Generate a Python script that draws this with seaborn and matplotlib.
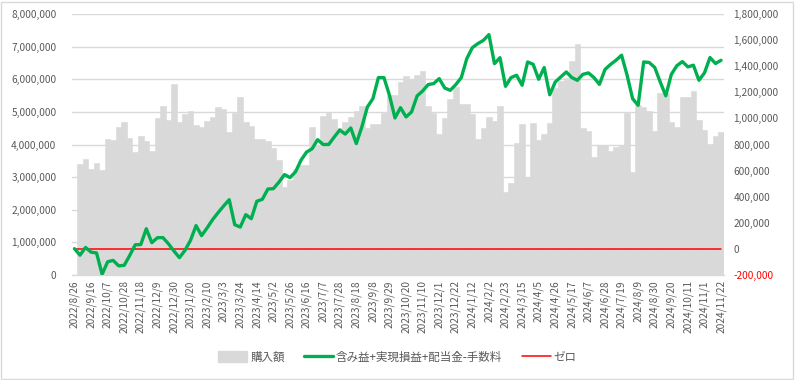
import matplotlib
matplotlib.use("Agg")
import matplotlib.pyplot as plt
from matplotlib.patches import Patch, Rectangle
from matplotlib.lines import Line2D
from matplotlib.ticker import FuncFormatter, FixedLocator
import seaborn as sns
import pandas as pd
import numpy as np

# ---------------- data ----------------
tick_labels = [
    "2022/8/26", "2022/9/16", "2022/10/7", "2022/10/28", "2022/11/18", "2022/12/9",
    "2022/12/30", "2023/1/20", "2023/2/10", "2023/3/3", "2023/3/24", "2023/4/14",
    "2023/5/2", "2023/5/26", "2023/6/16", "2023/7/7", "2023/7/28", "2023/8/18",
    "2023/9/8", "2023/9/29", "2023/10/20", "2023/11/10", "2023/12/1", "2023/12/22",
    "2024/1/12", "2024/2/2", "2024/2/23", "2024/3/15", "2024/4/5", "2024/4/26",
    "2024/5/17", "2024/6/7", "2024/6/28", "2024/7/19", "2024/8/9", "2024/8/30",
    "2024/9/20", "2024/10/11", "2024/11/1", "2024/11/22",
]

# purchase amount (購入額), in millions of yen
purchase_m = [
    0.00, 3.40, 3.56, 3.24, 3.42, 3.22, 4.16, 4.14, 4.55, 4.70,
    4.19, 3.78, 4.27, 4.11, 3.80, 4.81, 5.19, 4.75, 5.85, 4.68,
    4.93, 5.04, 4.60, 4.55, 4.73, 4.84, 5.16, 5.08, 4.37, 4.98,
    5.47, 4.68, 4.57, 4.16, 4.16, 4.12, 3.90, 3.52, 2.70, 2.92,
    3.24, 3.37, 3.37, 4.55, 4.00, 4.88, 5.01, 4.77, 4.50, 4.70,
    4.84, 5.04, 5.19, 4.50, 4.62, 4.62, 4.96, 5.52, 5.52, 5.93,
    6.11, 6.00, 6.14, 6.27, 5.18, 4.98, 4.31, 4.81, 5.40, 5.76,
    5.24, 5.24, 4.93, 4.16, 4.50, 4.83, 4.72, 5.19, 2.55, 2.83,
    4.04, 4.63, 2.99, 4.65, 4.14, 4.31, 4.67, 5.75, 5.95, 6.05,
    6.55, 7.09, 4.52, 4.42, 3.63, 4.00, 4.00, 3.80, 3.93, 3.98,
    4.97, 3.16, 5.21, 5.15, 5.02, 4.42, 5.57, 5.57, 4.68, 4.53,
    5.47, 5.47, 5.65, 4.75, 4.45, 4.02, 4.25, 4.39,
]

# 含み益+実現損益+配当金-手数料, in millions of yen
profit_m = [
    0.000, -0.050, 0.009, -0.027, -0.033, -0.197, -0.101, -0.090, -0.132, -0.128,
    -0.052, 0.030, 0.031, 0.153, 0.046, 0.084, 0.085, 0.038, -0.018, -0.069,
    -0.013, 0.064, 0.177, 0.100, 0.159, 0.223, 0.277, 0.328, 0.376, 0.184,
    0.166, 0.261, 0.230, 0.364, 0.379, 0.458, 0.461, 0.511, 0.569, 0.546,
    0.590, 0.680, 0.742, 0.767, 0.837, 0.800, 0.800, 0.857, 0.911, 0.880,
    0.927, 0.807, 0.935, 1.088, 1.152, 1.314, 1.314, 1.178, 1.004, 1.083,
    1.012, 1.050, 1.173, 1.211, 1.260, 1.268, 1.306, 1.234, 1.216, 1.260,
    1.314, 1.460, 1.544, 1.575, 1.600, 1.644, 1.421, 1.467, 1.247, 1.314,
    1.332, 1.255, 1.434, 1.416, 1.301, 1.391, 1.182, 1.280, 1.319, 1.357,
    1.314, 1.293, 1.339, 1.350, 1.314, 1.262, 1.376, 1.415, 1.447, 1.486,
    1.332, 1.152, 1.101, 1.434, 1.430, 1.392, 1.280, 1.174, 1.338, 1.405,
    1.437, 1.396, 1.409, 1.293, 1.350, 1.468, 1.422, 1.447,
]

zero_line = [0.0] * len(profit_m)

# weekly category labels (every third one is shown on the axis)
dates = pd.date_range("2022-08-26", periods=len(purchase_m), freq="7D")
categories = [f"{d.year}/{d.month}/{d.day}" for d in dates]
for k, lab in enumerate(tick_labels):
    categories[3 * k] = lab

df = pd.DataFrame({
    "date": categories,
    "idx": np.arange(len(categories)),
    "purchase": np.array(purchase_m) * 1e6,
    "profit": np.array(profit_m) * 1e6,
    "zero": zero_line,
})

# ---------------- style ----------------
sns.set_style("white")
plt.rcParams["font.family"] = ["Noto Sans CJK JP", "DejaVu Sans"]
TXT = "#595959"
GRID = "#d9d9d9"
BAR = "#d9d9d9"
GREEN = "#00b050"
RED = "#ff0000"
FS = 7.3

fig = plt.figure(figsize=(7.95, 3.80), dpi=100)
W, H = 795, 380
L, R, T, B = 71.7, 723.8, 14.3, 274.7
ax = fig.add_axes([L / W, 1 - B / H, (R - L) / W, (B - T) / H])

sns.barplot(data=df, x="date", y="purchase", color=BAR, saturation=1,
            width=1.0, linewidth=0.4, edgecolor=BAR, ax=ax, order=categories,
            zorder=2)
ax.set_xlim(-0.5, len(categories) - 0.5)
ax.set_ylim(0, 8_000_000)
ax.set_yticks(np.arange(0, 8_000_001, 1_000_000))
ax.yaxis.set_major_formatter(FuncFormatter(lambda v, p: f"{v:,.0f}"))
ax.grid(axis="y", color=GRID, linewidth=1.0)
ax.grid(axis="x", visible=False)
ax.set_axisbelow(True)
for s in ["left", "right", "top"]:
    ax.spines[s].set_visible(False)
ax.spines["bottom"].set_color(GRID)
ax.spines["bottom"].set_linewidth(1.0)
ax.set_xlabel("")
ax.set_ylabel("")

ax.set_xticks(np.arange(0, len(categories), 3))
ax.set_xticklabels(tick_labels, rotation=90)
ax.xaxis.set_minor_locator(FixedLocator(np.arange(-0.5, len(categories), 1.0)))
ax.tick_params(axis="x", which="major", length=0, pad=4, labelsize=FS, labelcolor=TXT)
ax.tick_params(axis="x", which="minor", length=3, width=0.8, color=GRID)
ax.tick_params(axis="y", length=0, pad=11, labelsize=FS, labelcolor=TXT)

ax2 = ax.twinx()
sns.lineplot(data=df, x="idx", y="zero", color=RED, linewidth=1.1, ax=ax2, zorder=3)
sns.lineplot(data=df, x="idx", y="profit", color=GREEN, linewidth=2.4, ax=ax2, zorder=4)
ax2.set_xlim(-0.5, len(categories) - 0.5)
ax2.set_ylim(-200_000, 1_800_000)
ax2.set_yticks(np.arange(-200_000, 1_800_001, 200_000))
ax2.yaxis.set_major_formatter(FuncFormatter(lambda v, p: f"{v:,.0f}"))
ax2.tick_params(axis="y", length=0, pad=7, labelsize=FS, labelcolor=TXT)
for s in ["left", "right", "top", "bottom"]:
    ax2.spines[s].set_visible(False)
ax2.set_xlabel("")
ax2.set_ylabel("")
ax2.grid(False)

fig.canvas.draw()
for lab in ax2.get_yticklabels():
    if lab.get_text().startswith("-") or lab.get_text().startswith("\u2212"):
        lab.set_color(RED)

handles = [
    Patch(facecolor=BAR, edgecolor=BAR),
    Line2D([0], [0], color=GREEN, linewidth=2.4),
    Line2D([0], [0], color=RED, linewidth=1.1),
]
labels = ["購入額", "含み益+実現損益+配当金-手数料", "ゼロ"]
fig.legend(handles, labels, loc="center", bbox_to_anchor=(0.5, 1 - 357 / H),
           ncol=3, frameon=False, fontsize=8.3, labelcolor=TXT,
           handlelength=2.5, handleheight=1.0, handletextpad=0.25,
           columnspacing=1.7)

fig.patches.append(Rectangle((1 / W, 1 / H), 1 - 3 / W, 1 - 3 / H,
                             transform=fig.transFigure, fill=False,
                             edgecolor=GRID, linewidth=1.0))

fig.savefig("out.png", dpi=100)
